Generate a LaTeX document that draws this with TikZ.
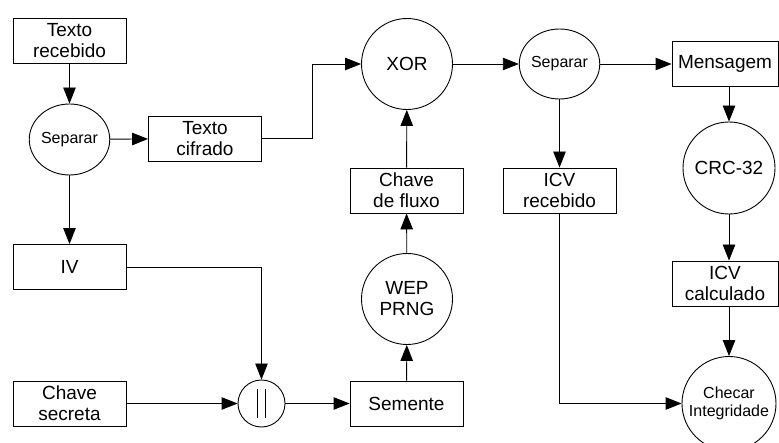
\documentclass[tikz,border=0pt]{standalone}
\usepackage{fontspec}
\setmainfont{Liberation Sans}
\usetikzlibrary{shapes.geometric,arrows.meta}
\begin{document}
\begin{tikzpicture}[x=1pt,y=-1pt,line width=0.9pt,
  every node/.style={font=\fontsize{19}{21}\selectfont, align=center, inner sep=0pt},
  blk/.style={draw, rectangle, minimum width=113pt, minimum height=45pt},
  rnd/.style={draw, circle, minimum size=91pt},
  small/.style={font=\fontsize{16}{18}\selectfont},
  sepnode/.style={draw, ellipse, minimum width=76pt, minimum height=71pt, small},
  flow/.style={draw, -{Triangle[length=16pt,width=12.5pt]}}]
\useasboundingbox (0,0) rectangle (779,443);

% boxes and operations
\node[blk] (trec) at (69.5,40.5) {Texto\\recebido};
\node[sepnode] (sepa) at (69.5,139.5) {Separar};
\node[blk] (tcif) at (205,138.5) {Texto\\cifrado};
\node[rnd] (xor) at (407,64) {XOR};
\node[sepnode, minimum height=70pt] (sepb) at (559.5,64) {Separar};
\node[blk, minimum width=106pt] (msg) at (725,64) {Mensagem};
\node[rnd, minimum size=92pt] (crc) at (729,168) {CRC-32};
\node[blk] (icvr) at (559.5,190.5) {ICV\\recebido};
\node[blk] (chf) at (406.5,190.5) {Chave\\de fluxo};
\node[blk] (iv) at (69.5,267) {IV};
\node[rnd] (wep) at (407,299) {WEP\\PRNG};
\node[blk, minimum width=106pt] (icvc) at (725,283.5) {ICV\\calculado};
\node[blk] (chs) at (69.5,403.5) {Chave\\secreta};
\node[draw, circle, minimum size=47pt] (cat) at (261.5,403.5) {};
\node[blk] (sem) at (406.5,403.5) {Semente};
\node[draw, circle, minimum size=94pt, small] (chk) at (729,403.5) {Checar\\Integridade};

% concatenation symbol
\draw[line width=0.8pt] ([shift={(-4.3pt,14.5pt)}]cat.center) -- ([shift={(-4.3pt,-14.5pt)}]cat.center);
\draw[line width=0.8pt] ([shift={(4.3pt,14.5pt)}]cat.center) -- ([shift={(4.3pt,-14.5pt)}]cat.center);

% connectors
\coordinate (j1) at (312,138.5);
\draw[flow] (trec) -- (sepa);
\draw[flow] (sepa) -- (tcif);
\draw[flow] (sepa) -- (iv);
\draw[flow] (tcif.east) -- (j1) |- (xor.west);
\draw[flow] (xor) -- (sepb);
\draw[flow] (sepb) -- (msg);
\draw[flow] (sepb) -- (icvr);
\draw[flow] (crc.north |- msg.south) -- (crc.north);
\draw[flow] (crc.south) -- (crc.south |- icvc.north);
\draw[flow] (chk.north |- icvc.south) -- (chk.north);
\draw[flow] (icvr.south) |- (chk.west);
\draw[flow] (iv.east) -| (cat.north);
\draw[flow] (chs) -- (cat);
\draw[flow] (cat) -- (sem);
\draw[flow] (sem) -- (wep);
\draw[flow] (wep) -- (chf);
\draw[flow] (chf) -- (xor);
\end{tikzpicture}
\end{document}
